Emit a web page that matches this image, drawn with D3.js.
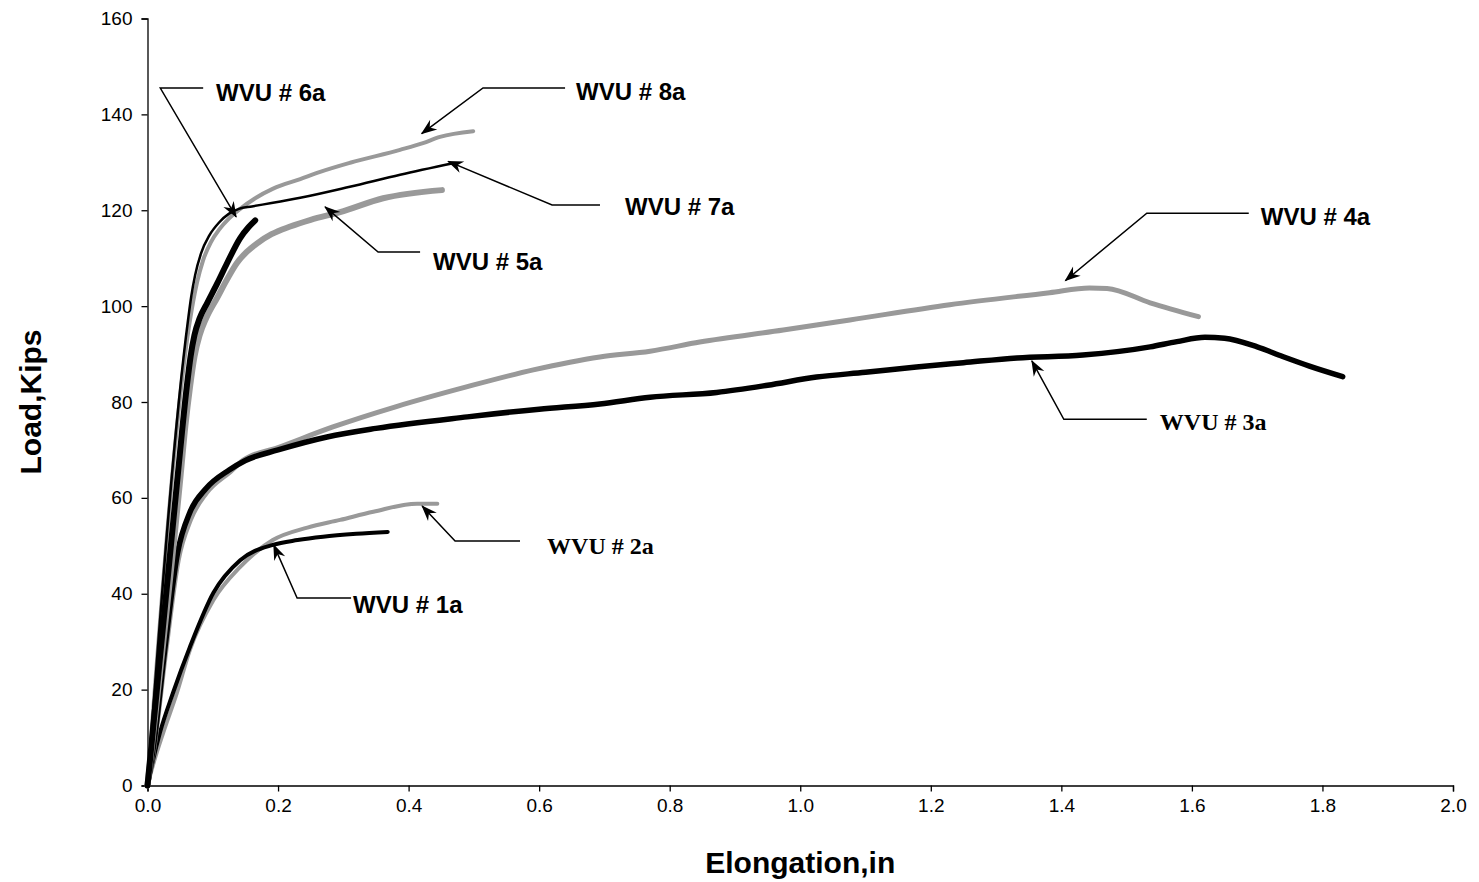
<!DOCTYPE html>
<html>
<head>
<meta charset="utf-8">
<script src="https://cdn.jsdelivr.net/npm/d3@7"></script>
<style>
  html, body { margin: 0; padding: 0; background: #fff; }
  svg { display: block; }
</style>
</head>
<body>
<svg id="chart" width="1479" height="882"></svg>
<script>
// ---------- data (elongation in, load kips) ----------
const wvu1a = [[0,0],[0.008,5],[0.019,11],[0.039,19.3],[0.065,28.9],[0.101,40.2],[0.142,47],[0.192,50.2],[0.23,51.2],[0.269,51.9],[0.32,52.5],[0.368,52.9]];
const wvu2a = [[0,0],[0.01,5],[0.024,11],[0.045,19.3],[0.065,28.3],[0.101,38.7],[0.142,45.6],[0.192,51.2],[0.245,53.8],[0.295,55.4],[0.346,57.1],[0.413,58.8],[0.444,58.8]];
const wvu3a = [[0,0],[0.01,9],[0.027,29],[0.046,48.5],[0.065,57],[0.09,62],[0.125,65.8],[0.15,67.8],[0.2,70],[0.275,72.7],[0.35,74.5],[0.49,76.9],[0.6,78.5],[0.693,79.6],[0.77,81],[0.872,82],[0.95,83.5],[1.025,85.2],[1.1,86.2],[1.178,87.3],[1.25,88.2],[1.332,89.2],[1.433,89.8],[1.536,91.5],[1.577,92.6],[1.62,93.5],[1.65,93.3],[1.7,91.5],[1.739,89.5],[1.78,87.5],[1.831,85.3]];
const wvu4a = [[0,0],[0.01,8],[0.028,28],[0.047,47],[0.066,55.5],[0.09,61],[0.127,65.5],[0.147,67.9],[0.2,70.5],[0.284,74.8],[0.38,79],[0.49,83.2],[0.591,86.7],[0.693,89.4],[0.77,90.6],[0.846,92.5],[0.974,95.0],[1.076,97.1],[1.229,100.3],[1.382,102.8],[1.443,103.8],[1.47,103.7],[1.536,100.7],[1.61,97.8]];
const wvu5a = [[0,0],[0.05,63.7],[0.058,75],[0.065,83],[0.072,89.5],[0.08,94],[0.09,97.5],[0.107,101.8],[0.122,105.6],[0.137,109],[0.152,111.3],[0.168,113.1],[0.19,115],[0.2185,116.6],[0.25,118],[0.295,119.6],[0.361,122.5],[0.451,124.2]];
const wvu6a = [[0,0],[0.0456,63.7],[0.06,83],[0.066,89.5],[0.072,94],[0.08,97.5],[0.092,100.8],[0.107,104.8],[0.122,109],[0.142,114.2],[0.155,116.5],[0.165,117.9]];
const wvu7a = [[0,0],[0.062,97],[0.067,102],[0.073,106.5],[0.082,111],[0.095,114.8],[0.11,117.5],[0.125,119.3],[0.14,120.3],[0.16,120.8],[0.19,121.5],[0.234,122.6],[0.31,124.9],[0.387,127.4],[0.468,129.8]];
const wvu8a = [[0,0],[0.065,97],[0.07,101],[0.076,105],[0.085,109.5],[0.097,113.3],[0.11,116],[0.125,118.3],[0.142,120.3],[0.165,122.5],[0.1925,124.5],[0.234,126.5],[0.2645,128.0],[0.3104,129.9],[0.3869,132.6],[0.422,134.0],[0.448,135.3],[0.499,136.5]];

const xTicks = [0,0.2,0.4,0.6,0.8,1.0,1.2,1.4,1.6,1.8,2.0];
const yTicks = [0,20,40,60,80,100,120,140,160];

// series: data, colour, width (draw order back to front)
const series = [
  {name: "WVU # 2a", data: wvu2a, color: "#999999", width: 4},
  {name: "WVU # 1a", data: wvu1a, color: "#000000", width: 4},
  {name: "WVU # 4a", data: wvu4a, color: "#999999", width: 5},
  {name: "WVU # 3a", data: wvu3a, color: "#000000", width: 5.5},
  {name: "WVU # 5a", data: wvu5a, color: "#999999", width: 6},
  {name: "WVU # 8a", data: wvu8a, color: "#999999", width: 4},
  {name: "WVU # 6a", data: wvu6a, color: "#000000", width: 6},
  {name: "WVU # 7a", data: wvu7a, color: "#000000", width: 2.5}
];

// annotations in data units: text anchor, elbow, end of horizontal leader, arrow tip
const labels = [
  {text: "WVU # 6a", font: "sans", tx: 0.105, ty: 144.5, ex: 0.0196, ey: 145.5, hx: 0.0853, px: 0.1358, py: 118.6},
  {text: "WVU # 8a", font: "sans", tx: 0.6565, ty: 144.7, ex: 0.514, ey: 145.5, hx: 0.6397, px: 0.42, py: 136.0},
  {text: "WVU # 7a", font: "sans", tx: 0.7315, ty: 120.7, ex: 0.6198, ey: 121.1, hx: 0.6932, px: 0.4605, py: 130.2},
  {text: "WVU # 5a", font: "sans", tx: 0.4375, ty: 109.2, ex: 0.3533, ey: 111.3, hx: 0.4176, px: 0.272, py: 120.7},
  {text: "WVU # 4a", font: "sans", tx: 1.7056, ty: 118.6, ex: 1.5309, ey: 119.4, hx: 1.6871, px: 1.4061, py: 105.3},
  {text: "WVU # 3a", font: "serif", tx: 1.5509, ty: 75.9, ex: 1.4038, ey: 76.4, hx: 1.5309, px: 1.3548, py: 88.6},
  {text: "WVU # 2a", font: "serif", tx: 0.6121, ty: 50.0, ex: 0.4712, ey: 51.0, hx: 0.5707, px: 0.4207, py: 58.3},
  {text: "WVU # 1a", font: "sans", tx: 0.315, ty: 37.7, ex: 0.2292, ey: 39.1, hx: 0.3119, px: 0.1933, py: 50.2}
];

// ---------- chart ----------
const svg = d3.select("#chart");
const x = d3.scaleLinear().domain([0, 2.0]).range([147.5, 1453]);
const y = d3.scaleLinear().domain([0, 160]).range([785.5, 18.5]);

const defs = svg.append("defs");
defs.append("marker")
  .attr("id", "arr")
  .attr("markerUnits", "userSpaceOnUse")
  .attr("viewBox", "-17 -8 19 16")
  .attr("refX", 0).attr("refY", 0)
  .attr("markerWidth", 19).attr("markerHeight", 16)
  .attr("orient", "auto")
  .append("path")
  .attr("d", "M1,0 L-15,-6 L-10,0 L-15,6 Z")
  .attr("fill", "#000");

// axes
const xAxis = d3.axisBottom(x).tickValues(xTicks).tickFormat(d3.format(".1f")).tickSizeOuter(0).tickSize(6).tickPadding(7);
const yAxis = d3.axisLeft(y).tickValues(yTicks).tickFormat(d3.format("d")).tickSizeOuter(0).tickSize(6).tickPadding(9);

const gx = svg.append("g").attr("transform", `translate(0,${y(0)})`).call(xAxis);
const gy = svg.append("g").attr("transform", `translate(${x(0)},0)`).call(yAxis);
[gx, gy].forEach(g => {
  g.selectAll("path, line").attr("stroke", "#000").attr("stroke-width", 1.3);
  g.selectAll("text").attr("fill", "#000")
    .style("font-family", "'Liberation Sans', Arial, sans-serif")
    .style("font-size", "19px");
});

// lines
const line = d3.line().x(d => x(d[0])).y(d => y(d[1])).curve(d3.curveMonotoneX);
svg.append("g").selectAll("path").data(series).join("path")
  .attr("d", d => line(d.data))
  .attr("fill", "none")
  .attr("stroke", d => d.color)
  .attr("stroke-width", d => d.width)
  .attr("stroke-linecap", "round")
  .attr("stroke-linejoin", "round");

// annotations
const ann = svg.append("g");
labels.forEach(l => {
  ann.append("path")
    .attr("d", `M${x(l.hx)},${y(l.ey)} L${x(l.ex)},${y(l.ey)} L${x(l.px)},${y(l.py)}`)
    .attr("fill", "none").attr("stroke", "#000").attr("stroke-width", 1.5)
    .attr("marker-end", "url(#arr)");
  ann.append("text")
    .attr("x", x(l.tx)).attr("y", y(l.ty))
    .attr("dy", "0.35em")
    .style("font-family", l.font === "serif" ? "'Liberation Serif', 'Times New Roman', serif" : "'Liberation Sans', Arial, sans-serif")
    .style("font-weight", "bold")
    .style("font-size", "24px")
    .text(l.text);
});

// axis titles
svg.append("text")
  .attr("x", (x(0) + x(2)) / 2).attr("y", 862).attr("dy", "0.35em")
  .attr("text-anchor", "middle")
  .style("font-family", "'Liberation Sans', Arial, sans-serif")
  .style("font-weight", "bold").style("font-size", "30px")
  .text("Elongation,in");
svg.append("text")
  .attr("transform", `translate(30,${(y(0) + y(160)) / 2}) rotate(-90)`)
  .attr("dy", "0.35em")
  .attr("text-anchor", "middle")
  .style("font-family", "'Liberation Sans', Arial, sans-serif")
  .style("font-weight", "bold").style("font-size", "30px")
  .text("Load,Kips");
</script>
</body>
</html>
